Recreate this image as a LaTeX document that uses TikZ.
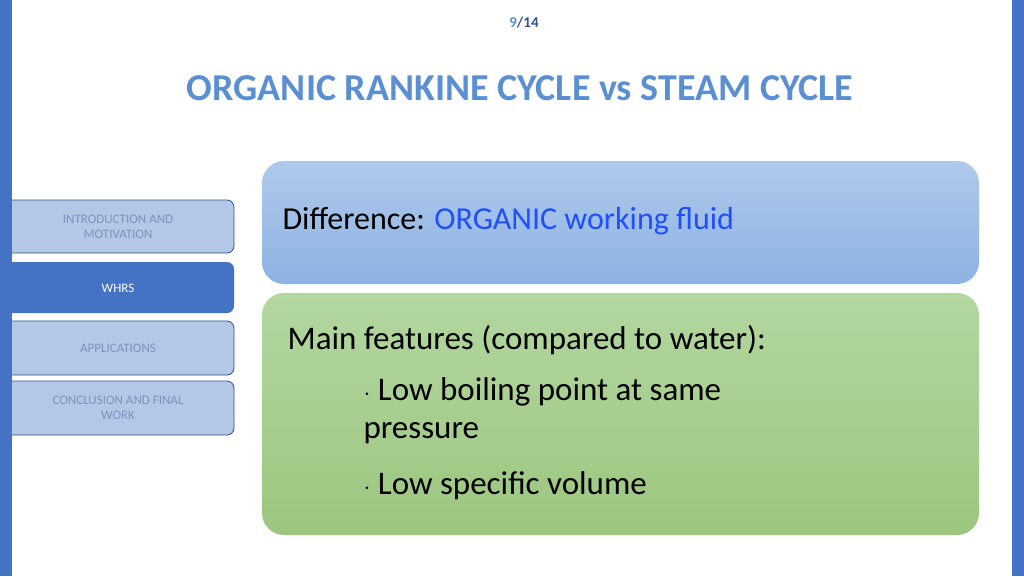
\documentclass[tikz,border=0pt]{standalone}
\usepackage{fontspec}
\setmainfont{Carlito}
\definecolor{bar}{HTML}{4472C4}
\definecolor{navfill}{HTML}{B4C7E7}
\definecolor{navtext}{HTML}{7F93BF}
\definecolor{navline}{HTML}{2F528F}
\definecolor{titleblue}{HTML}{5B8FD3}
\definecolor{linkblue}{HTML}{1F4FFF}
\definecolor{btop}{HTML}{AFC9EB}
\definecolor{bbot}{HTML}{8DB3E2}
\definecolor{gtop}{HTML}{B3D7A0}
\definecolor{gbot}{HTML}{9CC67F}
\begin{document}
\begin{tikzpicture}[x=1pt,y=-1pt,
  nav/.style={draw=navline,line width=0.8pt,fill=navfill,rounded corners=7pt},
  navtxt/.style={text=navtext,font=\fontsize{13}{15}\selectfont,align=center},
  panel/.style={rounded corners=22pt},
  body/.style={anchor=west,font=\fontsize{33}{40}\selectfont}]
\useasboundingbox[fill=white] (0,0) rectangle (1024,576);
\fill[bar] (1012,0) rectangle (1024,576);
\node (pg) at (524,23) {\fontsize{15}{18}\selectfont\bfseries\textcolor{titleblue}{9}\textcolor{navline}{/14}};
\node[text=titleblue,font=\fontsize{38}{44}\selectfont\bfseries] (title) at (520,88) {ORGANIC RANKINE CYCLE vs STEAM CYCLE};
\path[nav] (0,200) rectangle (234,253);
\node[navtxt] (n1) at (118,227) {INTRODUCTION AND\\MOTIVATION};
\fill[bar,rounded corners=7pt] (0,262) rectangle (234,313);
\node[text=white,font=\fontsize{13}{15}\selectfont] (n2) at (118,288) {WHRS};
\path[nav] (0,321) rectangle (234,375);
\node[navtxt] (n3) at (118,348) {APPLICATIONS};
\path[nav] (0,381) rectangle (234,435);
\node[navtxt] (n4) at (118,408) {CONCLUSION AND FINAL\\WORK};
\fill[bar] (0,0) rectangle (12,576);
\shade[panel,top color=btop, bottom color=bbot] (262,161) rectangle (979,284);
\shade[panel,top color=gtop, bottom color=gbot] (262,293) rectangle (979,535);
\node[anchor=west,font=\fontsize{32}{38}\selectfont] (d) at (279,221) {Difference: \textcolor{linkblue}{ORGANIC working fluid}};
\node[body] (m) at (284,340) {Main features (compared to water):};
\node[body] (f1) at (360,392) {$\cdot$ Low boiling point at same};
\node[body] (f1b) at (360,433) {pressure};
\node[body] (f2) at (360,486) {$\cdot$ Low specific volume};
\end{tikzpicture}
\end{document}
